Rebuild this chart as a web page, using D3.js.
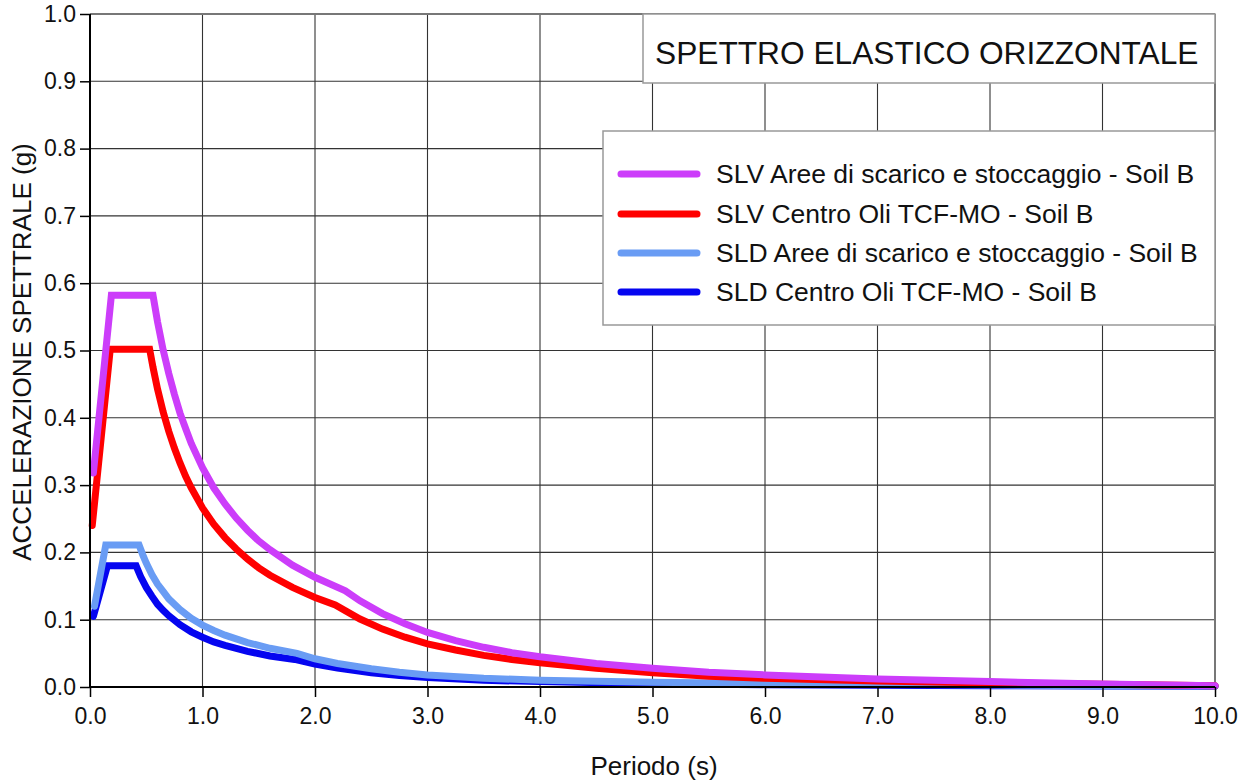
<!DOCTYPE html>
<html>
<head>
<meta charset="utf-8">
<script src="https://cdn.jsdelivr.net/npm/d3@7"></script>
<style>
  html, body { margin: 0; padding: 0; background: #fff; }
  svg { display: block; font-family: "Liberation Sans", Arial, sans-serif; }
</style>
</head>
<body>
<svg id="chart" width="1247" height="783"></svg>
<script>
// Elastic horizontal response spectra, Se(T) in g
const xTicks = [0, 1, 2, 3, 4, 5, 6, 7, 8, 9, 10];
const yTicks = [0, 0.1, 0.2, 0.3, 0.4, 0.5, 0.6, 0.7, 0.8, 0.9, 1.0];

const seriesNames = [
  "SLV Aree di scarico e stoccaggio - Soil B",
  "SLV Centro Oli TCF-MO - Soil B",
  "SLD Aree di scarico e stoccaggio - Soil B",
  "SLD Centro Oli TCF-MO - Soil B"
];
const seriesColors = ["#cc3dfa", "#ff0000", "#699cf4", "#0505f0"];

// SLV - Aree di scarico e stoccaggio
const periodSlvAree = [0.03, 0.19, 0.56, 0.6, 0.65, 0.7, 0.75, 0.8, 0.85, 0.9, 1.0, 1.1, 1.2, 1.3, 1.4, 1.5, 1.6, 1.8, 2.0, 2.27, 2.4, 2.6, 2.8, 3.0, 3.25, 3.5, 3.75, 4.0, 4.5, 5.0, 5.5, 6.0, 7.0, 8.0, 9.0, 10.0];
const accelSlvAree  = [0.318, 0.582, 0.582, 0.543, 0.501, 0.466, 0.435, 0.407, 0.384, 0.362, 0.326, 0.296, 0.272, 0.251, 0.233, 0.217, 0.204, 0.181, 0.163, 0.143, 0.128, 0.109, 0.094, 0.081, 0.069, 0.059, 0.051, 0.045, 0.035, 0.028, 0.022, 0.018, 0.012, 0.008, 0.0045, 0.002];

// SLV - Centro Oli TCF-MO
const periodSlvCentro = [0.02, 0.18, 0.53, 0.56, 0.6, 0.65, 0.7, 0.75, 0.8, 0.85, 0.9, 1.0, 1.1, 1.2, 1.3, 1.4, 1.5, 1.6, 1.8, 2.0, 2.18, 2.4, 2.6, 2.8, 3.0, 3.25, 3.5, 3.75, 4.0, 4.5, 5.0, 5.5, 6.0, 7.0, 8.0, 9.0, 10.0];
const accelSlvCentro  = [0.24, 0.502, 0.502, 0.475, 0.443, 0.409, 0.380, 0.355, 0.333, 0.313, 0.296, 0.266, 0.242, 0.222, 0.205, 0.190, 0.177, 0.166, 0.148, 0.133, 0.122, 0.101, 0.086, 0.074, 0.064, 0.055, 0.047, 0.041, 0.036, 0.028, 0.021, 0.016, 0.013, 0.009, 0.006, 0.004, 0.002];

// SLD - Aree di scarico e stoccaggio
const periodSldAree = [0.04, 0.14, 0.436, 0.47, 0.5, 0.55, 0.6, 0.65, 0.7, 0.8, 0.9, 1.0, 1.1, 1.2, 1.4, 1.6, 1.84, 2.0, 2.2, 2.5, 2.75, 3.0, 3.5, 4.0, 5.0, 6.0, 7.0, 8.0, 9.0, 10.0];
const accelSldAree  = [0.120, 0.211, 0.211, 0.196, 0.184, 0.167, 0.153, 0.142, 0.131, 0.115, 0.102, 0.092, 0.084, 0.077, 0.066, 0.0575, 0.050, 0.042, 0.035, 0.027, 0.022, 0.018, 0.013, 0.010, 0.007, 0.005, 0.004, 0.003, 0.002, 0.0015];

// SLD - Centro Oli TCF-MO
const periodSldCentro = [0.03, 0.155, 0.41, 0.45, 0.5, 0.55, 0.6, 0.65, 0.7, 0.8, 0.9, 1.0, 1.1, 1.2, 1.4, 1.6, 1.82, 2.0, 2.2, 2.5, 2.75, 3.0, 3.5, 4.0, 5.0, 6.0, 7.0, 8.0, 9.0, 10.0];
const accelSldCentro  = [0.105, 0.180, 0.180, 0.164, 0.148, 0.135, 0.123, 0.114, 0.106, 0.0925, 0.082, 0.074, 0.067, 0.062, 0.053, 0.046, 0.041, 0.034, 0.028, 0.021, 0.017, 0.014, 0.010, 0.008, 0.005, 0.0035, 0.0025, 0.002, 0.0015, 0.001];

const seriesPeriods = [periodSlvAree, periodSlvCentro, periodSldAree, periodSldCentro];
const seriesValues  = [accelSlvAree, accelSlvCentro, accelSldAree, accelSldCentro];

const titleText = "SPETTRO ELASTICO ORIZZONTALE";
const xTitle = "Periodo (s)";
const yTitle = "ACCELERAZIONE SPETTRALE (g)";

const svg = d3.select("#chart");
const x = d3.scaleLinear().domain([0, 10]).range([90, 1215]);
const y = d3.scaleLinear().domain([0, 1]).range([687, 14]);

// grid
const grid = svg.append("g");
grid.selectAll(".gx").data(xTicks.filter(d => d > 0 && d < 10)).join("line")
  .attr("x1", d => x(d)).attr("x2", d => x(d))
  .attr("y1", y(0)).attr("y2", y(1))
  .attr("stroke", "#333").attr("stroke-width", 1.1);
grid.selectAll(".gy").data(yTicks.filter(d => d > 0 && d < 1)).join("line")
  .attr("x1", x(0)).attr("x2", x(10))
  .attr("y1", d => y(d)).attr("y2", d => y(d))
  .attr("stroke", "#333").attr("stroke-width", 1.1);
// top and right frame
svg.append("line").attr("x1", x(0)).attr("x2", x(10)).attr("y1", y(1)).attr("y2", y(1))
  .attr("stroke", "#777").attr("stroke-width", 2);
svg.append("line").attr("x1", x(10)).attr("x2", x(10)).attr("y1", y(0)).attr("y2", y(1))
  .attr("stroke", "#777").attr("stroke-width", 2);

// title box
svg.append("rect").attr("x", 643).attr("y", y(1)).attr("width", x(10) - 643).attr("height", 69)
  .attr("fill", "#fff").attr("stroke", "#999").attr("stroke-width", 1.5);
svg.append("text").attr("x", 655).attr("y", 64)
  .attr("font-size", 31.7).attr("fill", "#111").text(titleText);

// legend box
const legX = 603, legY = 131;
svg.append("rect").attr("x", legX).attr("y", legY).attr("width", x(10) - legX).attr("height", 194)
  .attr("fill", "#fff").attr("stroke", "#999").attr("stroke-width", 1.5);
const rowY = [174, 214, 253, 292];
const leg = svg.append("g");
seriesNames.forEach((name, i) => {
  leg.append("line").attr("x1", 621).attr("x2", 697).attr("y1", rowY[i]).attr("y2", rowY[i])
    .attr("stroke", seriesColors[i]).attr("stroke-width", 7).attr("stroke-linecap", "round");
  leg.append("text").attr("x", 716).attr("y", rowY[i]).attr("dy", "0.35em")
    .attr("font-size", 26.5).attr("fill", "#111").text(name);
});

// curves, drawn SLD first so SLV sits on top
const line = d3.line().x(d => x(d[0])).y(d => y(d[1]));
const order = [3, 2, 1, 0];
const curves = svg.append("g");
order.forEach(i => {
  const pts = seriesPeriods[i].map((t, k) => [t, seriesValues[i][k]]);
  curves.append("path").datum(pts)
    .attr("d", line)
    .attr("fill", "none")
    .attr("stroke", seriesColors[i])
    .attr("stroke-width", 7)
    .attr("stroke-linejoin", "miter")
    .attr("stroke-linecap", "round");
});

// axes
const xAxis = svg.append("g").attr("transform", `translate(0,${y(0)})`)
  .call(d3.axisBottom(x).tickValues(xTicks).tickFormat(d3.format(".1f")).tickSize(10).tickPadding(11));
const yAxis = svg.append("g").attr("transform", `translate(${x(0)},0)`)
  .call(d3.axisLeft(y).tickValues(yTicks).tickFormat(d3.format(".1f")).tickSize(10).tickPadding(4));
[xAxis, yAxis].forEach(a => {
  a.select(".domain").attr("stroke", "#000").attr("stroke-width", 2);
  a.selectAll(".tick line").attr("stroke", "#000").attr("stroke-width", 1.5);
  a.selectAll(".tick text").attr("font-size", 23).attr("fill", "#111")
    .attr("font-family", "'Liberation Sans', Arial, sans-serif");
});
xAxis.select(".domain").attr("d", `M${x(0)},0H${x(10)}`);
yAxis.select(".domain").attr("d", `M0,${y(0)}V${y(1)}`);

// axis titles
svg.append("text").attr("x", 654).attr("y", 775).attr("text-anchor", "middle")
  .attr("font-size", 26).attr("fill", "#111").text(xTitle);
svg.append("text").attr("transform", `translate(31,352) rotate(-90)`).attr("text-anchor", "middle")
  .attr("font-size", 26).attr("fill", "#111").text(yTitle);
</script>
</body>
</html>
